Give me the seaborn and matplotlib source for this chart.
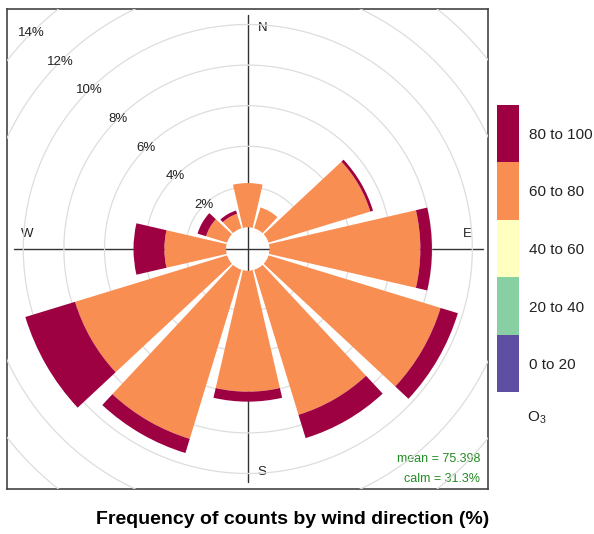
import numpy as np
import matplotlib
matplotlib.use("Agg")
import matplotlib.pyplot as plt
from matplotlib.colors import ListedColormap
import seaborn as sns

# Wind sectors, degrees clockwise from north
directions = [0, 30, 60, 90, 120, 150, 180, 210, 240, 270, 300, 330]

# Frequency (%) of counts per sector, split by O3 concentration band
o3_0_20 = [0, 0, 0, 0, 0, 0, 0, 0, 0, 0, 0, 0]
o3_20_40 = [0, 0, 0, 0, 0, 0, 0, 0, 0, 0, 0, 0]
o3_40_60 = [0, 0, 0, 0, 0, 0, 0, 0, 0, 0, 0, 0]
o3_60_80 = [2.19, 1.08, 5.25, 7.44, 8.87, 7.48, 5.97, 8.72, 7.84, 3.05, 1.09, 0.75]
o3_80_100 = [0.00, 0.00, 0.14, 0.57, 0.89, 1.20, 0.49, 0.73, 2.56, 1.52, 0.44, 0.17]

band_labels = ["0 to 20", "20 to 40", "40 to 60", "60 to 80", "80 to 100"]
band_colors = ["#5E4FA2", "#88D0A4", "#FFFFBF", "#F98E52", "#9E0142"]
ring_values = [2, 4, 6, 8, 10, 12, 14]
compass = {"N": (14.5, 221), "E": (220, 15), "S": (14.5, -223), "W": (-220.5, 15)}

mean_o3 = 75.398
calm_pct = 31.3
title = "Frequency of counts by wind direction (%)"

sns.set_theme(style="white")
plt.rcParams["font.family"] = ["Liberation Sans", "DejaVu Sans"]
plt.rcParams["mathtext.fontset"] = "custom"
plt.rcParams["mathtext.rm"] = "Liberation Sans"

W, H = 594, 534
fig = plt.figure(figsize=(W / 100, H / 100), dpi=100)
fig.patch.set_facecolor("white")

# ---- square panel with the compass cross ----
cx, cy = 247.8, 249.0           # panel centre (px from top-left)
fa = fig.add_axes([7 / W, 1 - 489 / H, 481 / W, 480 / H])
fa.set_xlim(-(cx - 7), 488 - cx)
fa.set_ylim(-240, 240)
fa.set_xticks([])
fa.set_yticks([])
fa.set_facecolor("white")
for sp in fa.spines.values():
    sp.set_color("#444444")
    sp.set_linewidth(1.2)
fa.plot([-234, 235], [0, 0], color="#333333", lw=1.0, zorder=1)
fa.plot([0, 0], [-233, 234], color="#333333", lw=1.0, zorder=1)
for lab, (x, y) in compass.items():
    fa.text(x, y, lab, ha="center", va="center", fontsize=9.5, color="#222222")
fa.text(232.5, -210.3, f"mean = {mean_o3:.3f}", ha="right", va="center",
        fontsize=9, color="forestgreen")
fa.text(232.5, -230.3, f"calm = {calm_pct:.1f}%", ha="right", va="center",
        fontsize=9, color="forestgreen")
fa.set_zorder(1)

# ---- polar rose on top ----
R_PX = 345.0                    # polar axes radius in px
PX_PER_PCT = 20.3
HOLE = 1.06                     # centre hole, in % units
RMAX = R_PX / PX_PER_PCT - HOLE
pa = fig.add_axes([(cx - R_PX) / W, (H - cy - R_PX) / H, 2 * R_PX / W, 2 * R_PX / H],
                  projection="polar")
pa.set_zorder(2)
pa.set_theta_zero_location("N")
pa.set_theta_direction(-1)
pa.set_rorigin(-HOLE)
pa.set_ylim(0, RMAX)
pa.grid(False)
pa.axis("off")

th = np.linspace(0, 2 * np.pi, 721)
for v in ring_values:
    ln, = pa.plot(th, np.full(th.shape, float(v)), color="#DDDDDD", lw=0.9, zorder=0.5)
    ln.set_clip_path(fa.patch)
    pa.text(np.deg2rad(315), v, f"{v}%", ha="center", va="center",
            fontsize=9.5, color="#222222")

theta = np.deg2rad(directions)
width = np.deg2rad(26)
bottom = np.zeros(len(directions))
for vals, col in zip([o3_0_20, o3_20_40, o3_40_60, o3_60_80, o3_80_100], band_colors):
    vals = np.asarray(vals, dtype=float)
    mask = vals > 0
    if mask.any():
        pa.bar(theta[mask], vals[mask], width=width, bottom=bottom[mask],
               color=col, edgecolor="none", linewidth=0, zorder=2)
    bottom = bottom + vals

# ---- legend key ----
lax = fig.add_axes([497.3 / W, 1 - 392.3 / H, 22 / W, 287.6 / H])
key = np.arange(len(band_labels))[::-1].reshape(-1, 1)
sns.heatmap(key, cmap=ListedColormap(band_colors), vmin=-0.5, vmax=len(band_labels) - 0.5,
            cbar=False, xticklabels=False, yticklabels=band_labels[::-1], ax=lax)
lax.yaxis.tick_right()
lax.tick_params(axis="y", length=0, pad=7, labelsize=11, labelcolor="#222222")
plt.setp(lax.get_yticklabels(), rotation=0)
fig.text(527 / W, 1 - 418 / H, r"O$_\mathregular{3}$", ha="left", va="center",
         fontsize=11, color="#222222")

fig.text(292.5 / W, 1 - 519.5 / H, title, ha="center", va="center",
         fontsize=14, fontweight="bold", color="black")

fig.savefig("out.png", dpi=100)
